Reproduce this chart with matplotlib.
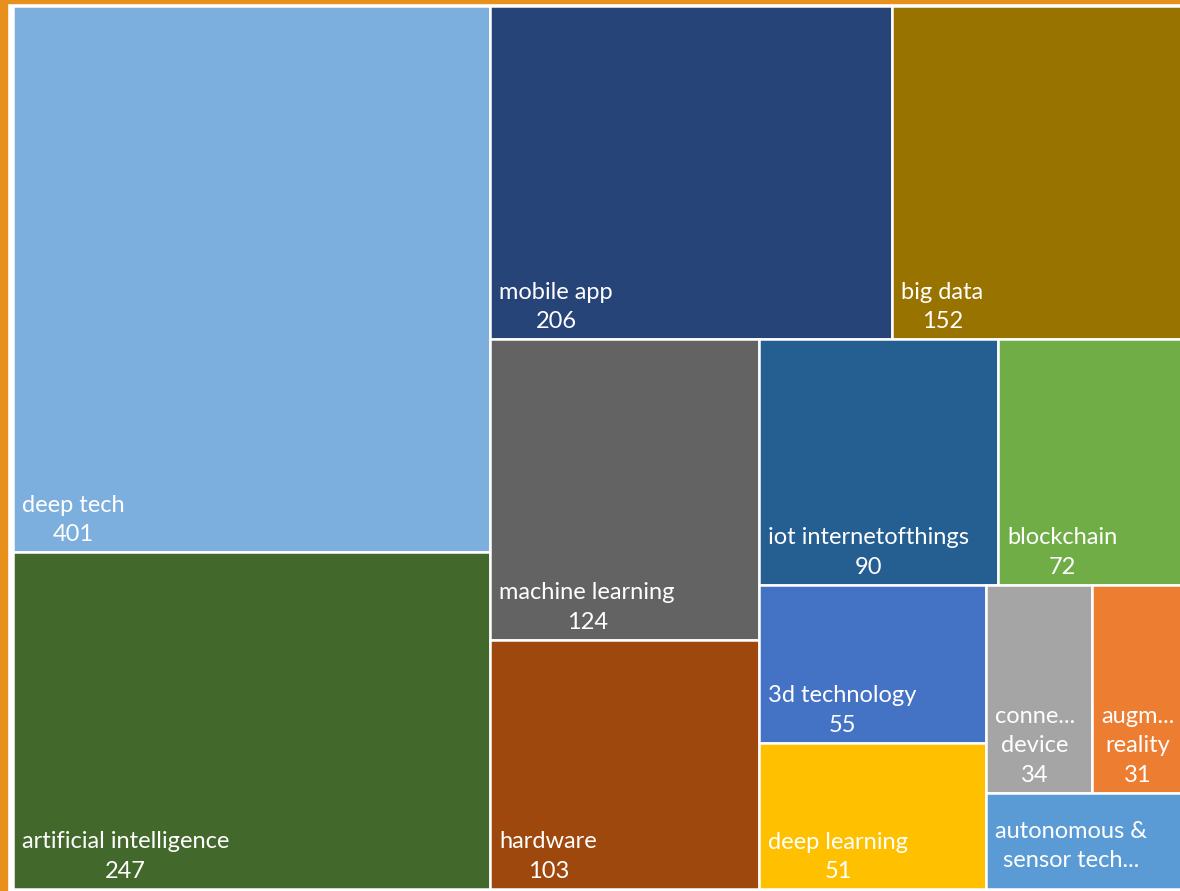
import matplotlib
matplotlib.use("Agg")
import matplotlib.pyplot as plt
from matplotlib.patches import Rectangle

# treemap data (autonomous value is hidden in the chart, estimated from its area)
names = ["deep tech", "artificial intelligence", "mobile app", "big data",
         "machine learning", "hardware", "iot internetofthings", "blockchain",
         "3d technology", "deep learning", "connected device",
         "augmented reality", "autonomous & sensor technology"]
values = [401, 247, 206, 152, 124, 103, 90, 72, 55, 51, 34, 31, 30]
shown = ["deep tech", "artificial intelligence", "mobile app", "big data",
         "machine learning", "hardware", "iot internetofthings", "blockchain",
         "3d technology", "deep learning", "conne...\ndevice",
         "augm...\nreality", "autonomous &\nsensor tech..."]
show_value = [True] * 12 + [False]
colors = ["#7CAFDD", "#43682B", "#264478", "#997300", "#636363", "#9E480E",
          "#255E91", "#70AD47", "#4472C4", "#FFC000", "#A5A5A5", "#ED7D31",
          "#5B9BD5"]

FW, FH = 1180, 891
W, H = 1176, 883


def worst(row, side):
    s = sum(row)
    return max(max(side * side * r / (s * s), s * s / (side * side * r)) for r in row)


def squarify(areas, x, y, w, h, tol=1.25):
    rects = []
    i = 0
    while i < len(areas):
        side = min(w, h)
        row = [areas[i]]
        j = i + 1
        while j < len(areas) and worst(row + [areas[j]], side) <= worst(row, side) * tol:
            row.append(areas[j])
            j += 1
        s = sum(row)
        if w >= h:
            cw = s / h
            yy = y
            for a in row:
                rects.append((x, yy, cw, a / cw))
                yy += a / cw
            x += cw
            w -= cw
        else:
            rh = s / w
            xx = x
            for a in row:
                rects.append((xx, y, a / rh, rh))
                xx += a / rh
            y += rh
            h -= rh
        i = j
    return rects


total = sum(values)
areas = [v * W * H / total for v in values]
rects = squarify(areas, 0, 0, W, H)

fig = plt.figure(figsize=(FW / 100, FH / 100), dpi=100)
ax = fig.add_axes([13 / FW, 2 / FH, W / FW, H / FH])
ax.set_xlim(0, W)
ax.set_ylim(H, 0)
ax.axis("off")

for (x, y, w, h), lab, v, sv, c in zip(rects, shown, values, show_value, colors):
    ax.add_patch(Rectangle((x, y), w, h, facecolor=c, edgecolor="white",
                           linewidth=1.8, clip_on=False))
    txt = lab + "\n" + str(v) if sv else lab
    pad = 7 if sv else 18
    ax.text(x + 9, y + h - pad, txt, color="white", fontsize=17,
            family=["Lato", "DejaVu Sans"], ha="left", va="bottom",
            multialignment="center", linespacing=1.5)

# orange frame pieces visible at the top/left edge of the screenshot
fig.add_artist(Rectangle((0, 0), 7 / FW, 1, transform=fig.transFigure,
                         color="#E8901C", zorder=5))
fig.add_artist(Rectangle((0, 1 - 2.5 / FH), 1, 2.5 / FH,
                         transform=fig.transFigure, color="#E8901C", zorder=5))

fig.savefig("out.png", dpi=100)
